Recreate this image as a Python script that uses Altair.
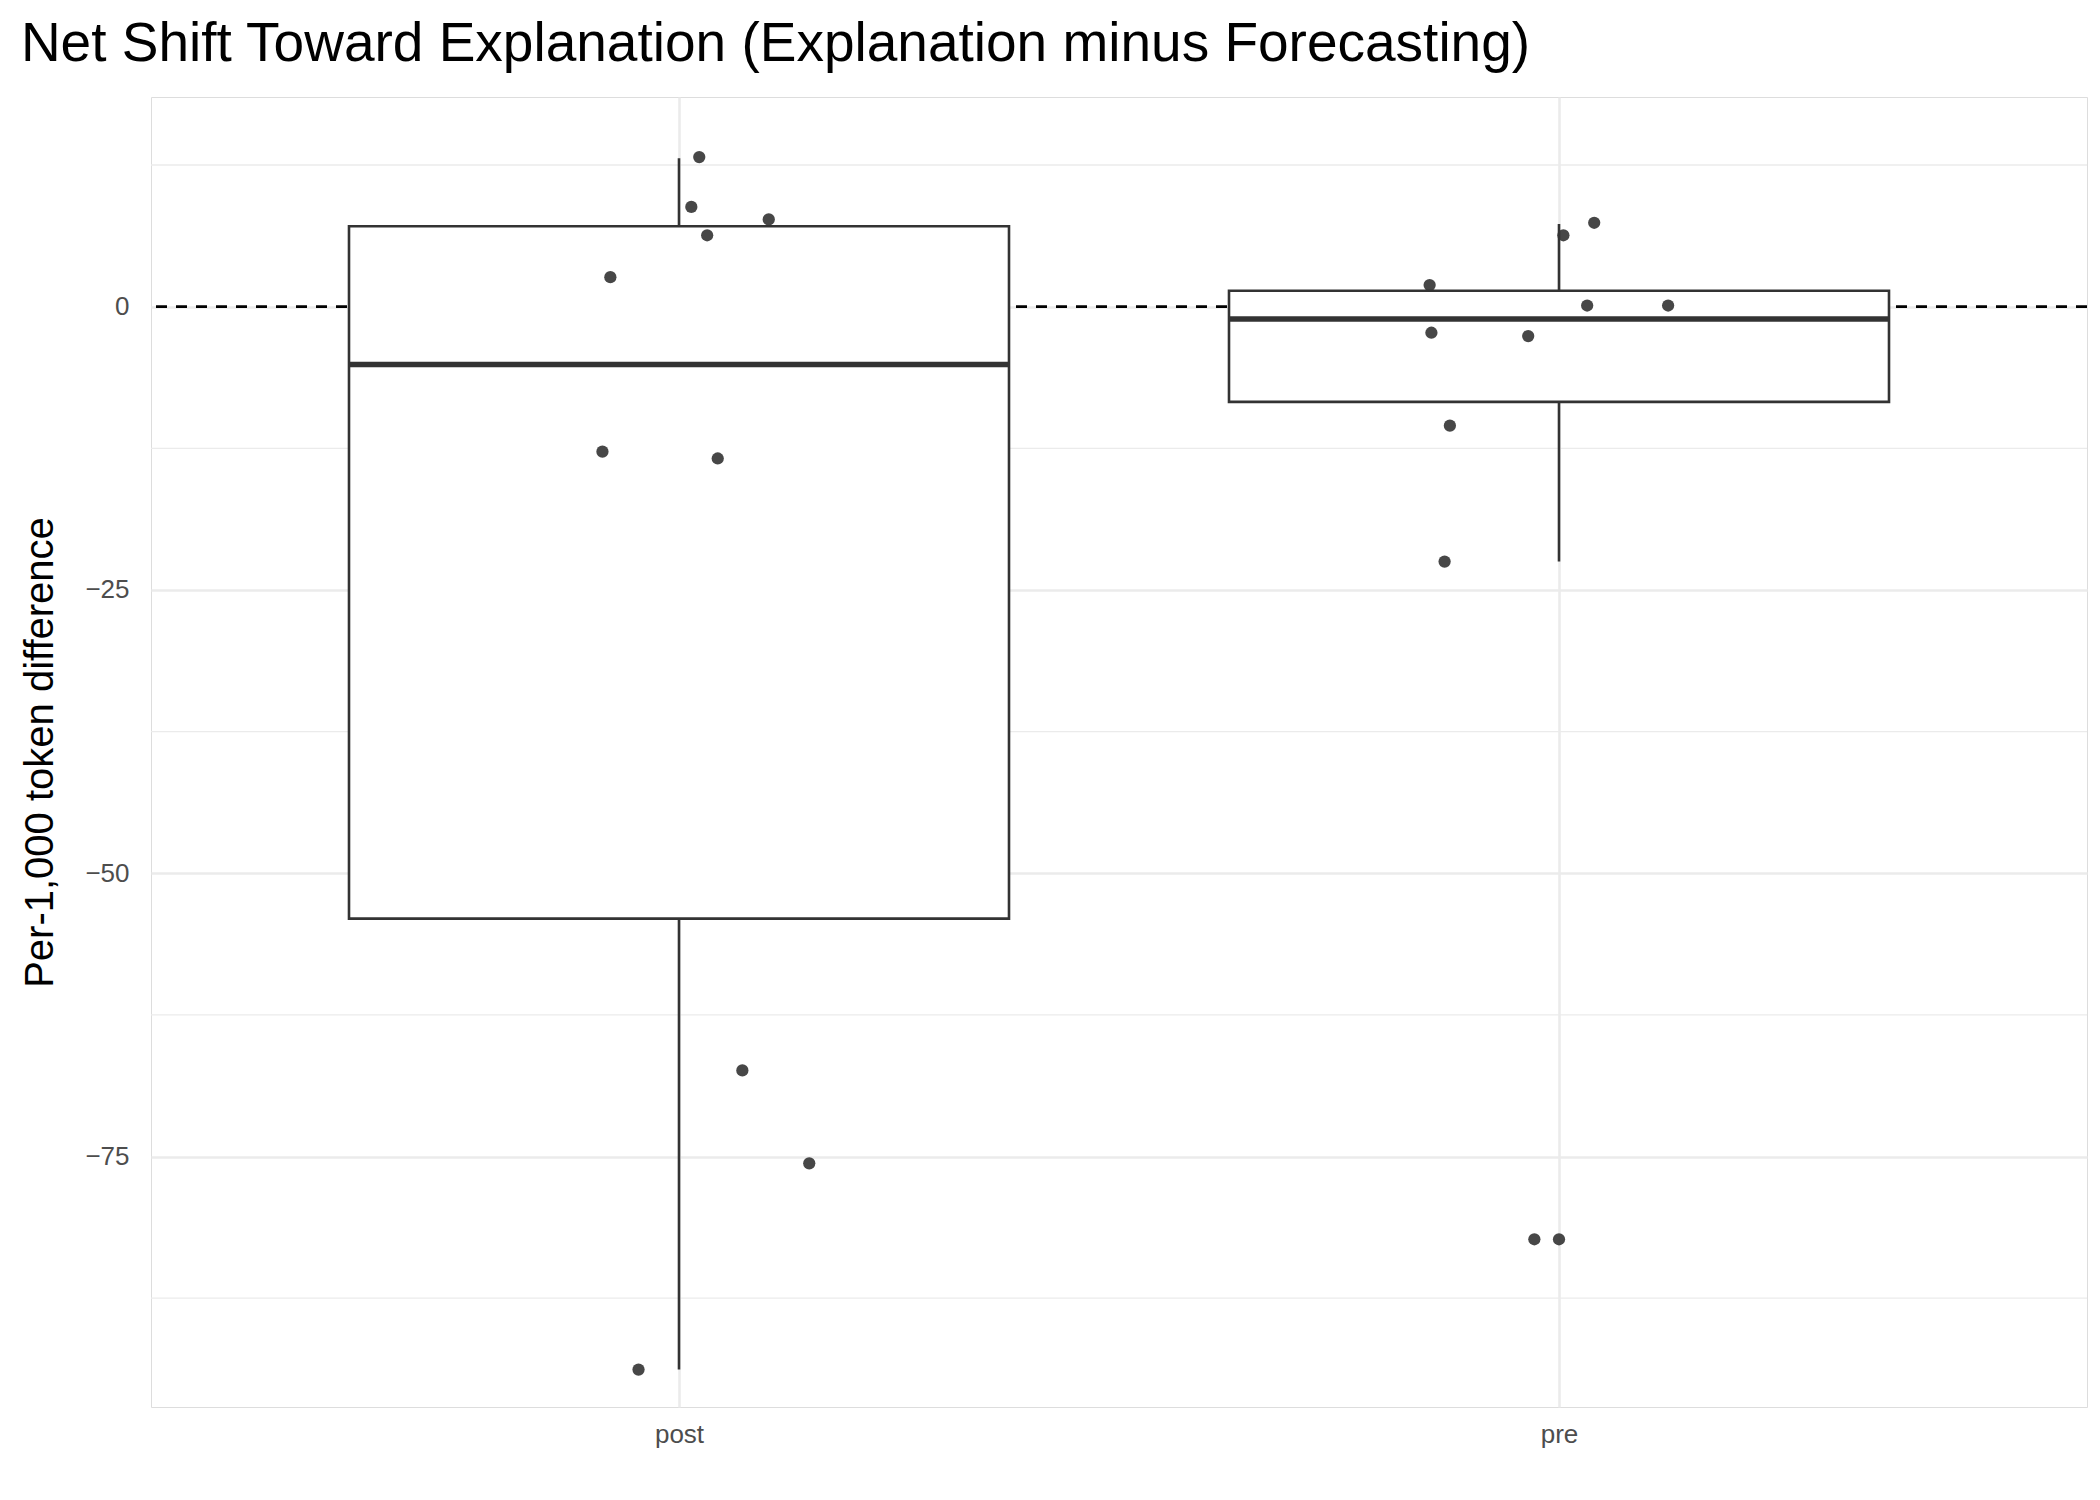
import altair as alt
import pandas as pd

# Box statistics
groups = ["post", "pre"]
lower_whisker = [-93.8, -22.5]
q1 = [-54.0, -8.4]
median = [-5.1, -1.1]
q3 = [7.1, 1.4]
upper_whisker = [13.1, 7.3]

# Jittered observations (group, horizontal jitter, value)
point_group = ["post"] * 10 + ["pre"] * 11
point_jitter = [0.023, 0.014, 0.032, 0.102, -0.078, -0.087, 0.044, 0.072, 0.148, -0.046,
                -0.147, 0.005, 0.040, -0.145, -0.035, 0.032, 0.124, -0.124, -0.130, -0.028, 0.0]
point_value = [13.2, 8.8, 6.3, 7.7, 2.6, -12.8, -13.4, -67.4, -75.6, -93.8,
               1.9, 6.3, 7.4, -2.3, -2.6, 0.1, 0.1, -10.5, -22.5, -82.3, -82.3]

minor_grid = [12.5, -12.5, -37.5, -62.5, -87.5]

W, H = 1936, 1310
Y_DOM = [-97.1, 18.5]
X_DOM = [0.4, 2.6]
INK = "#333333"

box = pd.DataFrame({
    "g": groups, "i": [1, 2], "lo": lower_whisker, "q1": q1,
    "med": median, "q3": q3, "hi": upper_whisker,
})
box["l"] = box["i"] - 0.375
box["r"] = box["i"] + 0.375

pts = pd.DataFrame({"g": point_group, "j": point_jitter, "v": point_value})
pts["x"] = pts["g"].map({"post": 1, "pre": 2}) + pts["j"]

xs = alt.Scale(domain=X_DOM, nice=False, zero=False)
ys = alt.Scale(domain=Y_DOM, nice=False, zero=False)

base = alt.Chart(box)

# axes layer first so its axis settings win
axes = (
    alt.Chart(pd.DataFrame({"i": [1, 2], "y": [0, 0]}))
    .mark_point(opacity=0)
    .encode(
        x=alt.X("i:Q", scale=xs, title=None,
                axis=alt.Axis(values=[1, 2], labelExpr="datum.value == 1 ? 'post' : 'pre'",
                              grid=True, gridColor="#EBEBEB", gridWidth=2.6,
                              ticks=False, domain=False, labelFontSize=26,
                              labelColor="#4D4D4D", labelPadding=14)),
        y=alt.Y("y:Q", scale=ys, title="Per-1,000 token difference",
                axis=alt.Axis(values=[-75, -50, -25, 0], grid=True, gridColor="#EBEBEB",
                              gridWidth=2.6, ticks=False, domain=False, labelFontSize=26,
                              labelColor="#4D4D4D", labelPadding=22, titleFontSize=40,
                              titleFontWeight="normal", titleColor="black", titlePadding=24)),
    )
)

minor = (
    alt.Chart(pd.DataFrame({"y": minor_grid}))
    .mark_rule(color="#EBEBEB", strokeWidth=1.3)
    .encode(y=alt.Y("y:Q", scale=ys))
)

zero = (
    alt.Chart(pd.DataFrame({"y": [0]}))
    .mark_rule(color="black", strokeWidth=2.6, strokeDash=[11, 9])
    .encode(y=alt.Y("y:Q", scale=ys))
)

whisk = base.mark_rule(color=INK, strokeWidth=2.6).encode(
    x=alt.X("i:Q", scale=xs), y=alt.Y("lo:Q", scale=ys), y2="hi:Q"
)
rect = base.mark_rect(fill="white", stroke=INK, strokeWidth=2.6).encode(
    x=alt.X("l:Q", scale=xs), x2="r:Q", y=alt.Y("q1:Q", scale=ys), y2="q3:Q"
)
med = base.mark_rule(color=INK, strokeWidth=5.5).encode(
    x=alt.X("l:Q", scale=xs), x2="r:Q", y=alt.Y("med:Q", scale=ys)
)

dots = (
    alt.Chart(pts)
    .mark_circle(size=150, color=INK, opacity=0.9)
    .encode(x=alt.X("x:Q", scale=xs), y=alt.Y("v:Q", scale=ys))
)

chart = (
    alt.layer(axes, minor, zero, whisk, rect, med, dots)
    .properties(
        width=W, height=H, autosize="none",
        padding={"left": 143, "top": 89, "right": 5, "bottom": 90},
        title=alt.TitleParams("Net Shift Toward Explanation (Explanation minus Forecasting)",
                              anchor="start", fontSize=55, fontWeight="normal",
                              color="black", offset=24),
    )
    .configure_view(strokeWidth=0)
    .configure(font="Liberation Sans")
)

chart.save("out.html", embed_options={"renderer": "svg", "actions": False})
